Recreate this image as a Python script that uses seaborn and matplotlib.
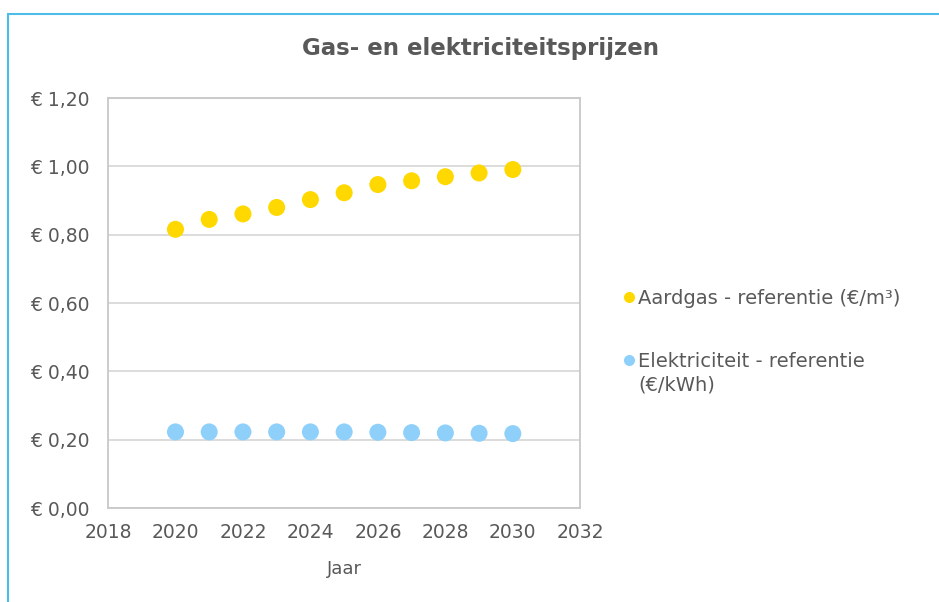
import numpy as np
import pandas as pd
import seaborn as sns
import matplotlib.pyplot as plt
from matplotlib.patches import Rectangle

# == data == #
jaren = [2020, 2021, 2022, 2023, 2024, 2025, 2026, 2027, 2028, 2029, 2030]
gas = [0.816, 0.845, 0.861, 0.880, 0.903, 0.923, 0.947, 0.958, 0.970, 0.981, 0.991]
elek = [0.223, 0.223, 0.223, 0.223, 0.223, 0.223, 0.222, 0.221, 0.220, 0.219, 0.218]
lbl_gas = 'Aardgas - referentie (€/m³)'
lbl_elek = 'Elektriciteit - referentie'
lbl_elek2 = '(€/kWh)'

df = pd.DataFrame({
    'Jaar': jaren * 2,
    'Prijs': gas + elek,
    'Reeks': [lbl_gas] * len(jaren) + [lbl_elek] * len(jaren),
})

sns.set_style('white')
plt.rcParams['font.family'] = ['DejaVu Sans']
txt = '#595959'

fig = plt.figure(figsize=(9.39, 6.02), dpi=100)
ax = fig.add_axes([0.115, 0.156, 0.503, 0.681])

sns.scatterplot(data=df, x='Jaar', y='Prijs', hue='Reeks',
                palette=['#FFD800', '#8ED0FA'], s=150, linewidth=0,
                ax=ax, legend=True, zorder=3)

ax.set_xlim(2018, 2032)
ax.set_ylim(0, 1.2)
ax.set_xticks(range(2018, 2033, 2))
ax.set_yticks(np.arange(0, 1.21, 0.2))
ax.set_yticklabels(['€ ' + f'{v:.2f}'.replace('.', ',') for v in np.arange(0, 1.21, 0.2)])
ax.grid(axis='y', color='#D9D9D9', linewidth=1.3)
ax.set_axisbelow(True)
for sp in ax.spines.values():
    sp.set_color('#C8C8C8')
    sp.set_linewidth(1.3)
ax.tick_params(axis='both', length=0, labelsize=13.5, colors=txt)
ax.tick_params(axis='y', pad=13)
ax.tick_params(axis='x', pad=11)
ax.set_xlabel('Jaar', fontsize=13, color=txt, labelpad=13)
ax.set_ylabel('')

fig.text(0.512, 0.920, 'Gas- en elektriciteitsprijzen', ha='center', va='center',
         fontsize=16.5, fontweight='bold', color=txt)

leg = ax.legend(loc='upper left', bbox_to_anchor=(0.652, 0.533), bbox_transform=fig.transFigure,
                frameon=False, fontsize=14, labelspacing=2.25, handletextpad=0.05,
                markerscale=0.65, handlelength=0.9, borderaxespad=0)
for t in leg.get_texts():
    t.set_color(txt)

# second line of the electricity label, placed under the legend entry
fig.canvas.draw()
bb = leg.get_texts()[1].get_window_extent().transformed(fig.transFigure.inverted())
fig.text(bb.x0, bb.y0 - 0.008, lbl_elek2, ha='left', va='top', fontsize=14, color=txt)

# blue frame around the chart
fig.patches.append(Rectangle((0.009, -0.05), 1.2, 1.027, transform=fig.transFigure,
                             fill=False, edgecolor='#4DBDE8', linewidth=1.5))

fig.savefig('out.png', dpi=100)
